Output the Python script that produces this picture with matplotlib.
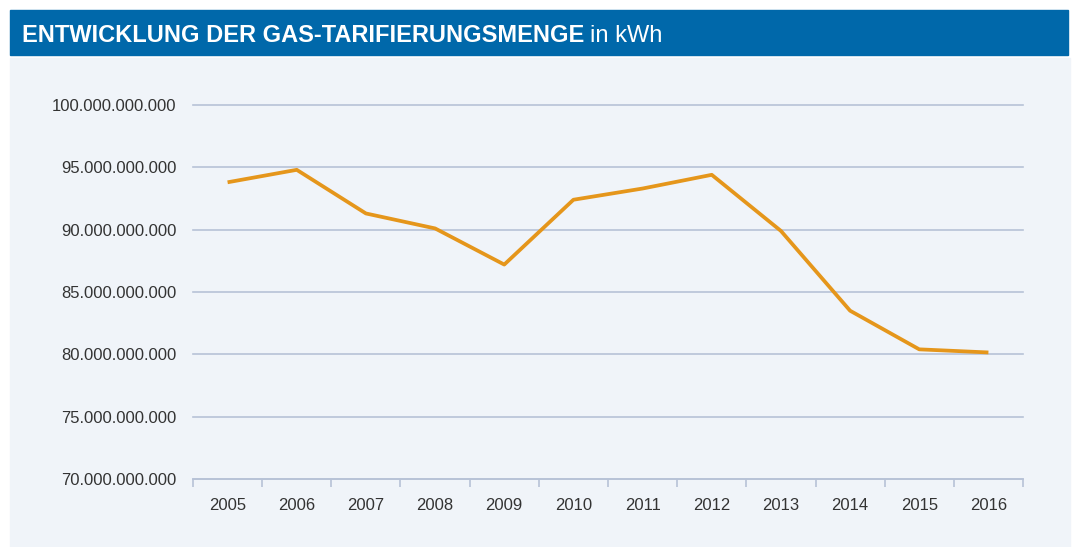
import matplotlib.pyplot as plt
from matplotlib.patches import Rectangle
from matplotlib.ticker import FuncFormatter, FixedLocator

years = ["2005", "2006", "2007", "2008", "2009", "2010",
         "2011", "2012", "2013", "2014", "2015", "2016"]
kwh = [93_800_000_000, 94_800_000_000, 91_300_000_000, 90_100_000_000,
       87_200_000_000, 92_400_000_000, 93_300_000_000, 94_400_000_000,
       89_900_000_000, 83_500_000_000, 80_400_000_000, 80_150_000_000]
y_ticks = [70_000_000_000, 75_000_000_000, 80_000_000_000, 85_000_000_000,
           90_000_000_000, 95_000_000_000, 100_000_000_000]

W, H = 1074, 547
BLUE = "#0068aa"
PANEL = "#f0f4f9"
GRID = "#b7c2d7"
LINE = "#e5961b"
TEXT = "#333333"

plt.rcParams["font.family"] = ["Liberation Sans", "DejaVu Sans"]

fig = plt.figure(figsize=(W / 100, H / 100), dpi=100)
fig.patch.set_facecolor("white")

# title bar and panel background
fig.patches.append(Rectangle((10 / W, 1 - 55 / H), 1058 / W, 45 / H,
                             transform=fig.transFigure, color=BLUE, zorder=0))
fig.patches.append(Rectangle((10 / W, 0), 1060 / W, 1 - 58 / H,
                             transform=fig.transFigure, color=PANEL, zorder=0))

t = fig.text(22 / W, 1 - 42 / H, "ENTWICKLUNG DER GAS-TARIFIERUNGSMENGE",
             weight="bold", fontsize=17, color="white", va="baseline")
fig.canvas.draw()
bb = t.get_window_extent()
fig.text((bb.x1 + 6) / W, 1 - 42 / H, "in kWh",
         fontsize=17, color="white", va="baseline")

ax = fig.add_axes([193 / W, 1 - 479 / H, 830 / W, 374 / H])
ax.set_zorder(2)
ax.set_facecolor(PANEL)
x = list(range(len(years)))
ax.plot(x, kwh, color=LINE, lw=2.7, solid_capstyle="butt", zorder=3)

ax.set_xlim(-0.5, len(years) - 0.5)
ax.set_ylim(y_ticks[0], y_ticks[-1])
ax.set_yticks(y_ticks)
ax.yaxis.set_major_formatter(FuncFormatter(lambda v, p: f"{int(v):,}".replace(",", ".")))
ax.set_xticks(x)
ax.set_xticklabels(years)
ax.xaxis.set_minor_locator(FixedLocator([i - 0.5 for i in range(len(years) + 1)]))

ax.grid(axis="y", color=GRID, lw=1.2, zorder=1)
ax.set_axisbelow(True)
for s in ["top", "right", "left"]:
    ax.spines[s].set_visible(False)
ax.spines["bottom"].set_color(GRID)
ax.spines["bottom"].set_linewidth(1.2)
ax.tick_params(axis="y", length=0, pad=12, labelsize=12, labelcolor=TEXT)
ax.tick_params(axis="x", which="major", length=0, pad=14, labelsize=12, labelcolor=TEXT)
ax.tick_params(axis="x", which="minor", length=6, width=1.2, color=GRID)
for gl in ax.get_ygridlines():
    gl.set_clip_on(False)

fig.savefig("out.png", dpi=100, facecolor="white")
